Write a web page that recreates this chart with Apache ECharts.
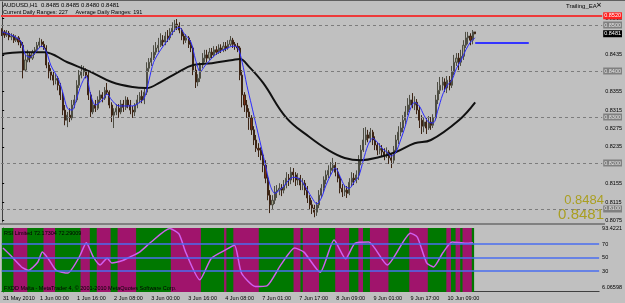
<!DOCTYPE html>
<html>
<head>
<meta charset="utf-8">
<script src="https://cdn.jsdelivr.net/npm/echarts@6/dist/echarts.min.js"></script>
<style>
html,body{margin:0;padding:0;background:#c0c0c0;}
#chart{width:625px;height:303px;}
</style>
</head>
<body>
<div id="chart"></div>
<script>
// AUDUSD H1, prices in pips (x 0.0001)
const opens = [
8489,8485,8478,8482,8474,8476,8467,8472,8463,8456, 8402,8424,8435,8428,8441,8446,8456,8463,8458,8450,
8413,8398,8391,8380,8384,8369,8348,8315,8293,8304, 8298,8326,8337,8369,8391,8398,8402,8391,8348,8311,
8326,8319,8337,8348,8341,8358,8354,8326,8304,8311, 8319,8311,8328,8321,8337,8326,8315,8311,8326,8337,
8345,8337,8354,8406,8419,8428,8441,8450,8456,8467, 8463,8476,8472,8485,8493,8502,8498,8489,8476,8467,
8472,8458,8450,8402,8376,8384,8413,8428,8435,8428, 8441,8435,8446,8441,8450,8446,8454,8450,8458,8467,
8458,8454,8450,8391,8348,8326,8311,8298,8272,8250, 8232,8228,8217,8195,8167,8130,8109,8119,8137,8141,
8145,8141,8152,8167,8163,8180,8174,8163,8167,8152, 8156,8141,8124,8109,8102,8093,8109,8130,8145,8163,
8174,8184,8189,8195,8180,8167,8145,8137,8141,8134, 8158,8167,8163,8174,8206,8228,8250,8261,8254,8267,
8250,8239,8228,8232,8224,8217,8224,8211,8206,8228, 8250,8267,8276,8293,8311,8326,8337,8326,8332,8315,
8293,8280,8289,8276,8289,8282,8298,8337,8358,8369, 8376,8363,8380,8369,8398,8419,8428,8419,8432,8456,
8472,8476,8467,8485
];
const closes = [
8485,8478,8482,8474,8476,8467,8472,8463,8456,8402, 8424,8435,8428,8441,8446,8456,8463,8458,8450,8413,
8398,8391,8380,8384,8369,8348,8315,8293,8304,8298, 8326,8337,8369,8391,8398,8402,8391,8348,8311,8326,
8319,8337,8348,8341,8358,8354,8326,8304,8311,8319, 8311,8328,8321,8337,8326,8315,8311,8326,8337,8345,
8337,8354,8406,8419,8428,8441,8450,8456,8467,8463, 8476,8472,8485,8493,8502,8498,8489,8476,8467,8472,
8458,8450,8402,8376,8384,8413,8428,8435,8428,8441, 8435,8446,8441,8450,8446,8454,8450,8458,8467,8458,
8454,8450,8391,8348,8326,8311,8298,8272,8250,8232, 8228,8217,8195,8167,8130,8109,8119,8137,8141,8145,
8141,8152,8167,8163,8180,8174,8163,8167,8152,8156, 8141,8124,8109,8102,8093,8109,8130,8145,8163,8174,
8184,8189,8195,8180,8167,8145,8137,8141,8134,8158, 8167,8163,8174,8206,8228,8250,8261,8254,8267,8250,
8239,8228,8232,8224,8217,8224,8211,8206,8228,8250, 8267,8276,8293,8311,8326,8337,8326,8332,8315,8293,
8280,8289,8276,8289,8282,8298,8337,8358,8369,8376, 8363,8380,8369,8398,8419,8428,8419,8432,8456,8472,
8476,8467,8485,8481
];
const lows = [
8476,8472,8474,8467,8467,8461,8463,8456,8450,8384, 8398,8419,8419,8424,8435,8441,8450,8452,8446,8406,
8384,8380,8369,8371,8358,8337,8304,8282,8278,8289, 8293,8319,8332,8363,8384,8389,8384,8337,8300,8306,
8311,8315,8330,8332,8337,8348,8319,8289,8276,8304, 8298,8306,8311,8315,8319,8306,8298,8302,8319,8330,
8330,8328,8348,8398,8411,8424,8435,8441,8452,8454, 8456,8463,8467,8478,8485,8489,8482,8467,8458,8461,
8450,8441,8391,8363,8367,8376,8406,8419,8419,8424, 8428,8430,8435,8437,8439,8441,8443,8446,8454,8450,
8446,8441,8380,8321,8311,8298,8272,8261,8239,8224, 8213,8206,8180,8156,8119,8091,8098,8111,8124,8130,
8128,8134,8145,8150,8154,8158,8150,8152,8141,8141, 8130,8113,8098,8089,8082,8085,8102,8124,8137,8154,
8167,8174,8180,8171,8158,8134,8126,8128,8124,8130, 8150,8152,8156,8163,8195,8224,8239,8245,8245,8239,
8228,8217,8219,8213,8206,8211,8198,8189,8200,8221, 8241,8258,8267,8284,8304,8315,8319,8315,8306,8276,
8263,8267,8263,8272,8272,8276,8293,8328,8350,8358, 8354,8352,8358,8363,8391,8411,8402,8411,8424,8450,
8458,8456,8458,8480
];
const highs = [
8493,8489,8489,8487,8482,8480,8478,8476,8467,8463, 8435,8446,8441,8446,8452,8463,8472,8469,8465,8456,
8419,8406,8398,8393,8389,8374,8354,8326,8311,8319, 8337,8348,8380,8402,8413,8411,8406,8398,8354,8337,
8337,8345,8358,8354,8365,8374,8358,8332,8319,8328, 8328,8337,8337,8345,8343,8337,8324,8330,8348,8354,
8358,8363,8419,8428,8441,8456,8463,8472,8482,8478, 8485,8489,8493,8506,8511,8513,8506,8493,8482,8480,
8476,8467,8454,8411,8393,8419,8439,8446,8446,8450, 8450,8454,8454,8458,8458,8463,8463,8467,8476,8472,
8463,8461,8454,8402,8354,8337,8319,8304,8280,8261, 8243,8234,8224,8206,8174,8141,8130,8150,8152,8156,
8154,8163,8180,8176,8191,8189,8180,8178,8174,8167, 8163,8150,8130,8119,8109,8115,8141,8154,8171,8184,
8195,8202,8211,8202,8189,8174,8154,8152,8150,8167, 8180,8178,8184,8217,8239,8276,8278,8272,8276,8272,
8258,8245,8243,8239,8232,8234,8228,8219,8237,8261, 8280,8289,8304,8324,8341,8348,8352,8345,8339,8324,
8304,8298,8298,8302,8300,8306,8348,8376,8387,8387, 8384,8389,8389,8411,8435,8439,8439,8446,8467,8485,
8485,8482,8489,8485
];

// moving averages, [bar index, pips]
const slowMa = [[0,8437],[8,8441],[18,8441],[28,8419],[38,8398],[47,8376],[56,8365],[62,8363],[68,8376],
  [75,8396],[82,8413],[90,8417],[99,8424],[102,8426],[106,8409],[112,8374],[122,8298],[132,8256],[140,8228],
  [147,8211],[154,8206],[162,8213],[169,8224],[177,8243],[184,8250],[196,8293],[203,8332]];
const fastMa = [[0,8485],[4,8478],[8,8465],[10,8435],[12,8430],[14,8439],[17,8454],[19,8441],[21,8411],
  [24,8384],[26,8354],[28,8319],[30,8315],[32,8341],[34,8371],[36,8389],[38,8348],[40,8326],[43,8337],
  [45,8350],[47,8337],[50,8324],[53,8324],[56,8324],[59,8332],[61,8341],[63,8380],[65,8419],[68,8446],
  [71,8467],[74,8489],[76,8495],[78,8482],[81,8463],[83,8424],[85,8398],[87,8411],[90,8428],[93,8441],
  [96,8448],[99,8454],[101,8452],[103,8419],[105,8369],[107,8326],[109,8282],[111,8239],[113,8195],
  [115,8152],[117,8134],[119,8141],[121,8150],[123,8163],[125,8169],[127,8167],[129,8158],[131,8141],
  [133,8124],[135,8111],[137,8124],[139,8152],[141,8174],[143,8189],[145,8171],[147,8150],[149,8145],
  [151,8158],[153,8171],[155,8206],[157,8239],[159,8254],[161,8245],[163,8232],[165,8224],[167,8215],
  [169,8224],[171,8250],[173,8280],[175,8315],[177,8332],[179,8324],[181,8304],[183,8289],[185,8287],
  [187,8315],[189,8348],[191,8369],[193,8380],[195,8406],[197,8424],[199,8446],[201,8463],[203,8472]];

const trailLevel = 0.8461;
const trailSpan = [203, 226];
const gridLevels = [0.8500, 0.8400, 0.8300, 0.8200, 0.8100];
const resistLevel = 0.8520;
const bidPrice = 0.8481;
const priceTicks = [0.8515, 0.8435, 0.8355, 0.8315, 0.8275, 0.8235, 0.8155, 0.8115, 0.8075];

// RSI panel
const rsi = [[0,64],[3,54],[8,36],[11,31],[15,43],[17,58],[20,46],[23,31],[28,27],[33,51],[36,72],[39,51],
  [42,39],[45,49],[47,42],[52,46],[55,51],[59,58],[64,73],[72,93],[76,85],[79,57],[85,17],[90,49],[96,61],
  [100,68],[103,27],[109,7],[114,8],[120,39],[126,64],[130,58],[137,28],[143,76],[148,48],[152,71],[158,73],
  [166,39],[176,86],[179,80],[183,42],[186,36],[190,57],[194,73],[200,71],[203,72]];
const magentaBands = [[5,10],[18,22],[34,37],[41,46],[50,57],[73,85],[96,96],[100,110],[126,128],[130,136],
  [144,149],[154,155],[159,166],[176,183],[192,193],[196,197],[199,202]];
const rsiLevels = [70, 50, 30];
const rsiTicks = [93.4221, 70, 50, 30, 6.06598];

const tickLabels = ['31 May 2010','1 Jun 00:00','1 Jun 16:00','2 Jun 08:00','3 Jun 00:00','3 Jun 16:00',
  '4 Jun 08:00','7 Jun 01:00','7 Jun 17:00','8 Jun 09:00','9 Jun 01:00','9 Jun 17:00','10 Jun 09:00'];

const slots = 258;
const cats = [];
for (let i = 0; i < slots; i++) cats.push(i);
const pip = v => v / 10000;
const candles = opens.map((o, i) => [pip(o), pip(closes[i]), pip(lows[i]), pip(highs[i])]);
const lastBar = opens.length - 1;

const FONT = 'Liberation Sans';
const chart = echarts.init(document.getElementById('chart'));

const boxLabel = (bg, fg) => ({
  show: true, position: 'end', distance: 1, formatter: p => Number(p.value).toFixed(4),
  backgroundColor: bg, color: fg, fontSize: 5.5, fontFamily: FONT, padding: [1, 1, 0, 1]
});

const option = {
  backgroundColor: '#c0c0c0',
  animation: false,
  textStyle: { fontFamily: FONT },
  grid: [
    { left: 1, right: 20, top: 2, height: 220 },
    { left: 1, right: 20, top: 228, height: 64 }
  ],
  xAxis: [
    { type: 'category', gridIndex: 0, data: cats, axisLine: { show: false }, axisTick: { show: false }, axisLabel: { show: false } },
    { type: 'category', gridIndex: 1, data: cats,
      axisLine: { lineStyle: { color: '#404040' } },
      axisTick: { interval: 15, alignWithLabel: true, length: 3, lineStyle: { color: '#000' } },
      axisLabel: { interval: 15, fontSize: 5.5, color: '#000', align: 'left', margin: 3, fontFamily: FONT,
        formatter: (v, i) => tickLabels[i / 16] || '' } },
    { type: 'value', gridIndex: 0, min: -0.5, max: slots - 0.5, show: false },
    { type: 'value', gridIndex: 1, min: -0.5, max: slots - 0.5, show: false }
  ],
  yAxis: [
    { type: 'value', gridIndex: 0, position: 'right', min: 0.80717, max: 0.8550,
      splitLine: { show: false },
      axisLine: { show: true, lineStyle: { color: '#404040' } },
      axisTick: { show: true, length: 2, customValues: priceTicks, lineStyle: { color: '#000' } },
      axisLabel: { customValues: priceTicks, formatter: v => v.toFixed(4), fontSize: 5.5, color: '#000', margin: 3, fontFamily: FONT } },
    { type: 'value', gridIndex: 1, position: 'right', min: -1.1, max: 93.7,
      splitLine: { show: false },
      axisLine: { show: true, lineStyle: { color: '#404040' } },
      axisTick: { show: true, length: 2, customValues: rsiTicks, lineStyle: { color: '#000' } },
      axisLabel: { customValues: rsiTicks, formatter: v => String(v), fontSize: 5.5, color: '#000', margin: 3, fontFamily: FONT } }
  ],
  series: [
    {
      type: 'candlestick', xAxisIndex: 0, yAxisIndex: 0, data: candles, barWidth: 1.6,
      itemStyle: { color: '#a4a48c', color0: '#7a2e14', borderColor: '#4e4e44', borderColor0: '#3c2414', borderWidth: 1 },
      markLine: {
        silent: true, symbol: 'none', precision: 4,
        data: gridLevels.map(v => ({ yAxis: v, lineStyle: { color: '#7c7c7c', type: [3, 3], width: 1 }, label: boxLabel('#808080', '#e4e4e4') }))
          .concat([
            { yAxis: resistLevel, lineStyle: { color: '#ee3a3a', type: 'solid', width: 2 }, label: boxLabel('#ff2020', '#ffffff') },
            { yAxis: bidPrice, lineStyle: { color: 'rgba(0,0,0,0)', width: 1 }, label: boxLabel('#000000', '#ffffff') }
          ])
      }
    },
    { type: 'line', xAxisIndex: 2, yAxisIndex: 0, data: slowMa.map(d => [d[0], pip(d[1])]), smooth: 0.4,
      symbol: 'none', lineStyle: { color: '#111', width: 2 } },
    { type: 'line', xAxisIndex: 2, yAxisIndex: 0, data: fastMa.map(d => [d[0], pip(d[1])]), smooth: 0.3,
      symbol: 'none', lineStyle: { color: '#2b2bff', width: 1 } },
    { type: 'line', xAxisIndex: 2, yAxisIndex: 0, data: trailSpan.map(x => [x, trailLevel]),
      symbol: 'none', lineStyle: { color: '#3434ff', width: 2 } },
    // RSI background bands
    { type: 'line', xAxisIndex: 3, yAxisIndex: 1, data: [], silent: true, z: 1,
      markArea: { silent: true,
        data: [[{ xAxis: -0.5, itemStyle: { color: '#007800', opacity: 1 } }, { xAxis: lastBar + 0.5 }]]
          .concat(magentaBands.map(b => [{ xAxis: b[0] - 0.5, itemStyle: { color: '#a0146c', opacity: 1 } }, { xAxis: b[1] + 0.5 }])) } },
    { type: 'line', xAxisIndex: 3, yAxisIndex: 1, data: [], silent: true, z: 2,
      markLine: { silent: true, symbol: 'none', label: { show: false },
        data: rsiLevels.map(v => ({ yAxis: v })), lineStyle: { color: '#4a6ef0', type: 'solid', width: 1.5 } } },
    { type: 'line', xAxisIndex: 3, yAxisIndex: 1, data: rsi, smooth: 0.2, symbol: 'none', z: 3,
      lineStyle: { color: '#d060f0', width: 1.5 } }
  ],
  graphic: [
    { type: 'text', left: 3, top: 2, style: { text: 'AUDUSD,H1  0.8485 0.8485 0.8480 0.8481', font: '6px "Liberation Sans"', fill: '#000' } },
    { type: 'text', left: 3, top: 9, style: { text: 'Current Daily Ranges: 227     Average Daily Ranges: 191', font: '5.5px "Liberation Sans"', fill: '#000' } },
    { type: 'text', left: 566, top: 3, style: { text: 'Trailing_EA', font: '6px "Liberation Sans"', fill: '#000' } },
    { type: 'text', left: 596, top: 2, style: { text: '×', font: 'bold 7px "DejaVu Sans"', fill: '#202020' } },
    { type: 'text', right: 21, top: 194, style: { text: '0.8484', font: '13px "Liberation Sans"', fill: '#aa9f22' } },
    { type: 'text', right: 21, top: 207, style: { text: '0.8481', font: '15px "Liberation Sans"', fill: '#aa9f22' } },
    { type: 'text', left: 4, top: 230, z: 10, style: { text: 'RSI Limited 72.17304 72.29009', font: '5.5px "Liberation Sans"', fill: '#000' } },
    { type: 'text', left: 4, top: 285, z: 10, style: { text: 'FXDD Malta - MetaTrader 4, © 2001-2010 MetaQuotes Software Corp.', font: '5.5px "Liberation Sans"', fill: '#000' } },
    { type: 'rect', left: 0, top: 223, z: 10, shape: { width: 605, height: 2 }, style: { fill: '#808080' } },
    { type: 'rect', left: 0, top: 0, z: 10, shape: { width: 625, height: 1 }, style: { fill: '#606060' } }
  ]
};

chart.setOption(option);
</script>
</body>
</html>
